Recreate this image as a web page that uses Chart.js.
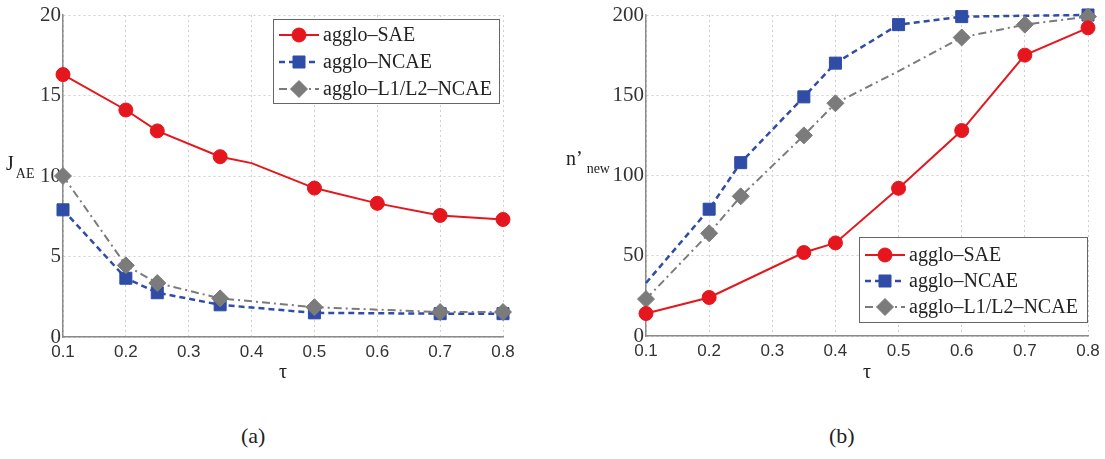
<!DOCTYPE html>
<html>
<head>
<meta charset="utf-8">
<script src="https://cdn.jsdelivr.net/npm/chart.js@4/dist/chart.umd.min.js"></script>
<style>
  body { margin: 0; background: #fff; width: 1105px; height: 459px; position: relative; overflow: hidden; }
  .wrap { position: absolute; top: 0; height: 400px; }
  .cap { position: absolute; top: 423px; font-family: 'Liberation Serif', serif; font-size: 22px; color: #222; }
</style>
</head>
<body>
<div class="wrap" style="left:0;width:540px"><canvas id="chartA"></canvas></div>
<div class="wrap" style="left:560px;width:545px"><canvas id="chartB"></canvas></div>
<div class="cap" style="left:241px">(a)</div>
<div class="cap" style="left:829px">(b)</div>
<script>
// tau values shared by both panels (null = no point on that line)
const tau = [0.1, 0.2, 0.25, 0.35, 0.4, 0.5, 0.6, 0.7, 0.8];
const xTicks = [0.1, 0.2, 0.3, 0.4, 0.5, 0.6, 0.7, 0.8];
const seriesNames = ['agglo\u2013SAE', 'agglo\u2013NCAE', 'agglo\u2013L1/L2\u2013NCAE'];

// (a) J_AE
const jSAE  = [16.3, 14.1, 12.8, 11.2, 10.8, 9.25, 8.3, 7.55, 7.3];
const jNCAE = [7.9, 3.65, 2.75, 2.0, null, 1.5, null, 1.45, 1.45];
const jL1L2 = [10.0, 4.45, 3.35, 2.4, null, 1.85, null, 1.55, 1.55];
const jNoMarker = [[0.4], [], []];
const jTicks = [0, 5, 10, 15, 20];

// (b) n'_new
const nSAE  = [14, 24, null, 52, 58, 92, 128, 175, 192];
const nNCAE = [33, 79, 108, 149, 170, 194, 199, null, 200];
const nL1L2 = [23, 64, 87, 125, 145, 165, 186, 194, 199];
const nNoMarker = [[], [0.1], [0.5]];
const nTicks = [0, 50, 100, 150, 200];

// order: red on top, then grey, then blue
const styles = [
  { color: '#e5161d', dash: [], width: 2, pointStyle: 'circle', radius: 7, order: 0 },
  { color: '#2f4ca6', dash: [6, 4], width: 2.5, pointStyle: 'rect', radius: 8.5, order: 2 },
  { color: '#7b7b7b', dash: [8, 4, 2, 4], width: 2, pointStyle: 'rectRot', radius: 8.5, order: 1 }
];

function makeDataset(values, i, noMarker) {
  const pts = [];
  const radii = [];
  tau.forEach((t, k) => {
    if (values[k] === null) return;
    pts.push({ x: t, y: values[k] });
    radii.push(noMarker.includes(t) ? 0 : styles[i].radius);
  });
  const s = styles[i];
  return {
    label: seriesNames[i],
    data: pts,
    order: s.order,
    borderColor: s.color,
    backgroundColor: s.color,
    borderWidth: s.width,
    borderDash: s.dash,
    pointStyle: s.pointStyle,
    pointRadius: radii,
    pointBorderWidth: 1,
    pointBackgroundColor: s.color,
    pointBorderColor: s.color,
    tension: 0,
    fill: false,
    clip: false
  };
}

const serif = "'Liberation Serif', 'Times New Roman', serif";
const sans = "'Liberation Sans', Arial, sans-serif";

// legend, axis titles drawn on the canvas
const decorPlugin = {
  id: 'decor',
  afterDraw(chart, args, opts) {
    const ctx = chart.ctx;
    const area = chart.chartArea;
    ctx.save();
    // x title
    ctx.fillStyle = '#222';
    ctx.font = '20px ' + serif;
    ctx.textAlign = 'center';
    ctx.textBaseline = 'middle';
    ctx.fillText('\u03c4', area.left + opts.tauX, 373);
    // y title with subscript
    ctx.textAlign = 'left';
    ctx.textBaseline = 'alphabetic';
    ctx.font = '20px ' + serif;
    ctx.fillText(opts.yMain, opts.yX, opts.yY);
    const w = ctx.measureText(opts.yMain).width;
    ctx.font = '14px ' + serif;
    ctx.fillText(opts.ySub, opts.yX + w + opts.subGap, opts.yY + 8);
    // legend
    const lg = opts.legend;
    ctx.fillStyle = '#fff';
    ctx.fillRect(lg.x, lg.y, lg.w, lg.h);
    ctx.strokeStyle = '#666';
    ctx.lineWidth = 1;
    ctx.strokeRect(lg.x + 0.5, lg.y + 0.5, lg.w, lg.h);
    chart.data.datasets.forEach((ds, i) => {
      const cy = lg.y + lg.rowTop + i * lg.rowH;
      const x0 = lg.x + 6, x1 = lg.x + 46;
      ctx.save();
      ctx.strokeStyle = ds.borderColor;
      ctx.lineWidth = ds.borderWidth;
      ctx.setLineDash(ds.borderDash);
      ctx.beginPath();
      ctx.moveTo(x0, cy);
      ctx.lineTo(x1, cy);
      ctx.stroke();
      ctx.setLineDash([]);
      ctx.fillStyle = ds.borderColor;
      ctx.lineWidth = 1;
      Chart.helpers.drawPoint(ctx, { pointStyle: ds.pointStyle, radius: styles[i].radius, rotation: 0, borderWidth: 1 }, (x0 + x1) / 2, cy);
      ctx.restore();
      ctx.fillStyle = '#222';
      ctx.font = '20px ' + serif;
      ctx.textAlign = 'left';
      ctx.textBaseline = 'middle';
      ctx.fillText(ds.label, lg.x + 50, cy + 1);
    });
    ctx.restore();
  }
};

function makeConfig(series, noMarker, yTicks, yWidth, padRight, xHeight, decor) {
  return {
    type: 'line',
    data: { datasets: series.map((v, i) => makeDataset(v, i, noMarker[i])) },
    options: {
      responsive: true,
      maintainAspectRatio: false,
      animation: false,
      events: [],
      layout: { padding: { top: 15, right: padRight, bottom: 0, left: 0 } },
      plugins: { legend: { display: false }, tooltip: { enabled: false }, decor: decor },
      scales: {
        x: {
          type: 'linear',
          min: xTicks[0],
          max: xTicks[xTicks.length - 1],
          afterFit(scale) { scale.height = xHeight; },
          afterBuildTicks(scale) { scale.ticks = xTicks.map(v => ({ value: v })); },
          ticks: {
            color: '#333',
            font: { family: sans, size: 17 },
            padding: 5,
            maxRotation: 0,
            autoSkip: false,
            callback: v => Number(v).toFixed(1)
          },
          grid: { color: '#cfcfcf', lineWidth: 1, drawTicks: false },
          border: { display: true, color: '#8a8a8a', width: 1.5, dash: [2, 3] }
        },
        y: {
          min: yTicks[0],
          max: yTicks[yTicks.length - 1],
          afterFit(scale) { scale.width = yWidth; },
          afterBuildTicks(scale) { scale.ticks = yTicks.map(v => ({ value: v })); },
          ticks: {
            color: '#333',
            font: { family: serif, size: 21 },
            padding: 2
          },
          grid: { color: '#cfcfcf', lineWidth: 1, drawTicks: false },
          border: { display: true, color: '#8a8a8a', width: 1.5, dash: [2, 3] }
        }
      }
    },
    plugins: [decorPlugin]
  };
}

new Chart(document.getElementById('chartA'), makeConfig(
  [jSAE, jNCAE, jL1L2], jNoMarker, jTicks, 63, 37, 63,
  { tauX: 220, yMain: 'J', ySub: 'AE', yX: 6, yY: 170, subGap: 2,
    legend: { x: 273, y: 19, w: 226, h: 84, rowTop: 16, rowH: 27 } }
));

new Chart(document.getElementById('chartB'), makeConfig(
  [nSAE, nNCAE, nL1L2], nNoMarker, nTicks, 86, 17, 64,
  { tauX: 221, yMain: 'n\u2019', ySub: 'new', yX: 6, yY: 165, subGap: 4,
    legend: { x: 299, y: 237, w: 228, h: 85, rowTop: 18, rowH: 26 } }
));
</script>
</body>
</html>
